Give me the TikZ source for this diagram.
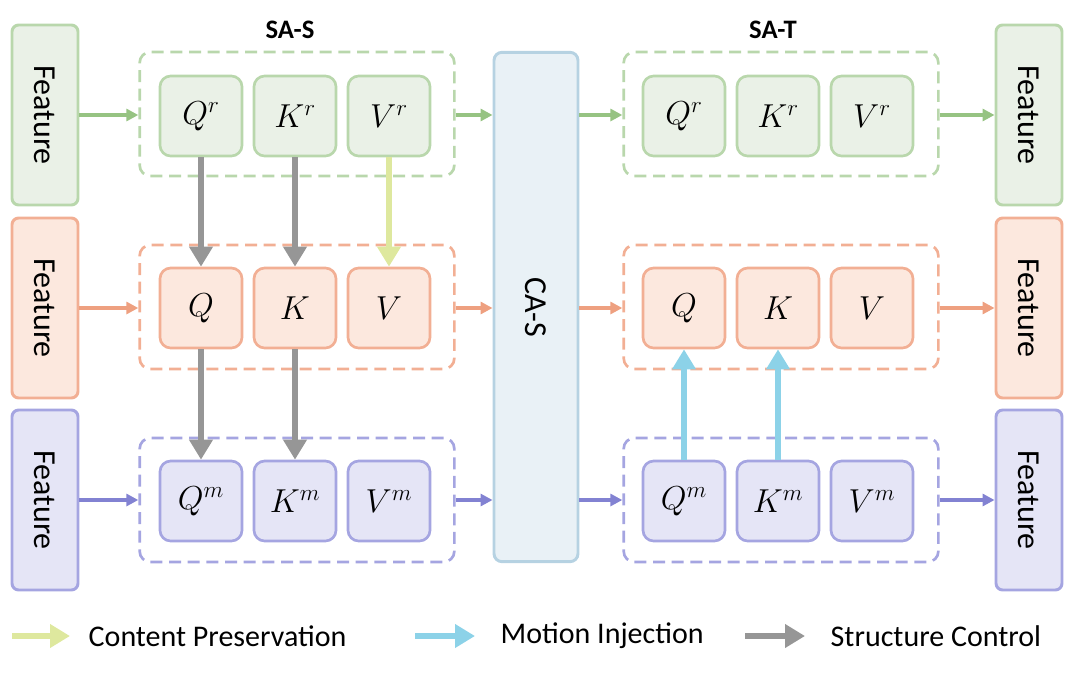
\documentclass[tikz,border=0pt]{standalone}
\usepackage{fontspec}
\setsansfont{Carlito}
\usetikzlibrary{arrows.meta}
\definecolor{gB}{RGB}{185,215,172}\definecolor{gF}{RGB}{234,241,231}\definecolor{gA}{RGB}{150,195,130}
\definecolor{oB}{RGB}{242,175,148}\definecolor{oF}{RGB}{252,232,222}\definecolor{oA}{RGB}{238,160,128}
\definecolor{bB}{RGB}{165,165,225}\definecolor{bF}{RGB}{229,229,246}\definecolor{bA}{RGB}{130,130,210}
\definecolor{cB}{RGB}{182,210,226}\definecolor{cF}{RGB}{233,241,246}
\definecolor{grA}{RGB}{150,150,150}\definecolor{yA}{RGB}{222,232,158}\definecolor{cyA}{RGB}{140,210,232}
\begin{document}
\begin{tikzpicture}[x=0.75pt,y=-0.75pt,
 feat/.style={draw=#1B,fill=#1F,line width=2.2pt,rounded corners=5pt,minimum width=49.5pt,minimum height=135pt,inner sep=0pt},
 dbox/.style={draw=#1B,dashed,dash pattern=on 9pt off 5pt,line width=2pt,rounded corners=8pt,minimum width=236pt,minimum height=93pt,inner sep=0pt},
 qkv/.style={draw=#1B,fill=#1F,line width=2pt,rounded corners=8pt,minimum width=61.5pt,minimum height=60pt,inner sep=0pt,font=\fontsize{25}{28}\selectfont},
 flow/.style={draw=#1A,line width=2.6pt,-{Triangle[length=9pt,width=9pt]}},
 big/.style={draw=#1,line width=4.5pt,-{Triangle[length=15pt,width=17pt]}},
 ftxt/.style={rotate=-90,font=\sffamily\fontsize{24}{28}\selectfont}]
\useasboundingbox (0,0) rectangle (1080,675);
% features
\foreach \c/\y/\n in {g/115/1,o/308/2,b/500/3}{
 \node[feat=\c] (L\n) at (45,\y) {}; \node[ftxt] at (L\n) {Feature};
 \node[feat=\c] (R\n) at (1029,\y) {}; \node[ftxt] at (R\n) {Feature};
}
\node[draw=cB,fill=cF,line width=2.2pt,rounded corners=6pt,minimum width=63pt,minimum height=382pt] (ca) at (536,307) {};
\node[rotate=-90,font=\sffamily\fontsize{24}{28}\selectfont] at (ca) {CA-S};
% dashed boxes
\node[dbox=g] (D1) at (297,114) {}; \node[dbox=o] (D2) at (297,307) {}; \node[dbox=b] (D3) at (297,500) {};
\node[dbox=g] (E1) at (781,114) {}; \node[dbox=o] (E2) at (781,307) {}; \node[dbox=b] (E3) at (781,500) {};
\node[font=\sffamily\bfseries\fontsize{20}{24}\selectfont] at (290,30) {SA-S};
\node[font=\sffamily\bfseries\fontsize{20}{24}\selectfont] at (773,30) {SA-T};
% qkv left
\node[qkv=g] (Qr) at (201,116) {$Q^r$}; \node[qkv=g] (Kr) at (295,116) {$K^r$}; \node[qkv=g] (Vr) at (389,116) {$V^r$};
\node[qkv=o] (Q) at (201,308) {$Q$}; \node[qkv=o] (K) at (295,308) {$K$}; \node[qkv=o] (V) at (389,308) {$V$};
\node[qkv=b] (Qm) at (201,501) {$Q^m$}; \node[qkv=b] (Km) at (295,501) {$K^m$}; \node[qkv=b] (Vm) at (389,501) {$V^m$};
% qkv right
\node[qkv=g] (Qr2) at (684,116) {$Q^r$}; \node[qkv=g] (Kr2) at (778,116) {$K^r$}; \node[qkv=g] (Vr2) at (872,116) {$V^r$};
\node[qkv=o] (Q2) at (684,308) {$Q$}; \node[qkv=o] (K2) at (778,308) {$K$}; \node[qkv=o] (V2) at (872,308) {$V$};
\node[qkv=b] (Qm2) at (684,501) {$Q^m$}; \node[qkv=b] (Km2) at (778,501) {$K^m$}; \node[qkv=b] (Vm2) at (872,501) {$V^m$};
% flows
\foreach \c/\n/\y in {g/1/115,o/2/308,b/3/500}{
 \draw[flow=\c] (L\n.east|-0,\y) -- (D\n.west|-0,\y);
 \draw[flow=\c] (D\n.east|-0,\y) -- (ca.west|-0,\y);
 \draw[flow=\c] (ca.east|-0,\y) -- (E\n.west|-0,\y);
 \draw[flow=\c] (E\n.east|-0,\y) -- (R\n.west|-0,\y);
}
\draw[big=grA] (Qr) -- (Q); \draw[big=grA] (Kr) -- (K); \draw[big=yA] (Vr) -- (V);
\draw[big=grA] (Q) -- (Qm); \draw[big=grA] (K) -- (Km);
\draw[big=cyA] (Qm2) -- (Q2); \draw[big=cyA] (Km2) -- (K2);
% legend
\coordinate (a1) at (12,636); \coordinate (a2) at (70,636);
\coordinate (b1) at (415,636); \coordinate (b2) at (475,636);
\coordinate (c1) at (745,636); \coordinate (c2) at (805,636);
\draw[big=yA] (a1) -- (a2); \draw[big=cyA] (b1) -- (b2); \draw[big=grA] (c1) -- (c2);
\node[anchor=west,font=\sffamily\fontsize{22.5}{26}\selectfont] (t1) at (84,636) {Content Preservation};
\node[anchor=west,font=\sffamily\fontsize{22.5}{26}\selectfont] (t2) at (496,636) {Motion Injection};
\node[anchor=west,font=\sffamily\fontsize{22.5}{26}\selectfont] (t3) at (826,636) {Structure Control};
\end{tikzpicture}
\end{document}
